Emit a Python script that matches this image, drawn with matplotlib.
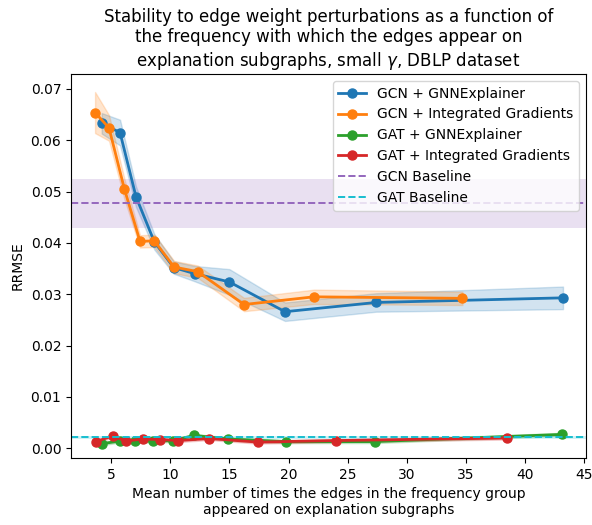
import numpy as np
import matplotlib
matplotlib.use("Agg")
import matplotlib.pyplot as plt

# ==========================
# DATA
# ==========================

x_gcn_gnn = [4.21, 5.76, 7.11, 8.66, 10.3, 12.1, 15.0, 19.7, 27.4, 43.2]
y_gcn_gnn = [0.0633, 0.0615, 0.0490, 0.0402, 0.0352, 0.0340, 0.0324, 0.0266, 0.0284, 0.0293]
s_gcn_gnn = [0.0020, 0.0025, 0.0020, 0.0015, 0.0012, 0.0015, 0.0025, 0.0018, 0.0018, 0.0022]

x_gcn_ig = [3.65, 4.83, 6.13, 7.45, 8.66, 10.33, 12.33, 16.24, 22.16, 34.7]
y_gcn_ig = [0.0654, 0.0624, 0.0505, 0.0403, 0.0404, 0.0353, 0.0344, 0.0280, 0.0295, 0.0292]
s_gcn_ig = [0.0040, 0.0025, 0.0020, 0.0012, 0.0012, 0.0012, 0.0012, 0.0013, 0.0014, 0.0013]

x_gat_gnn = [4.23, 5.76, 7.04, 8.53, 10.22, 12.04, 14.92, 19.77, 27.29, 43.15]
y_gat_gnn = [0.0009, 0.0014, 0.0014, 0.0014, 0.0015, 0.0025, 0.0018, 0.0013, 0.0013, 0.0027]
s_gat_gnn = [0.0003] * 10

x_gat_ig = [3.75, 5.13, 6.24, 7.67, 9.18, 10.7, 13.3, 17.4, 24.0, 38.5]
y_gat_ig = [0.0013, 0.0024, 0.0014, 0.0018, 0.0017, 0.0015, 0.0019, 0.0012, 0.0015, 0.0020]
s_gat_ig = [0.0003] * 10

gcn_base, gcn_base_std = 0.0477, 0.0047
gat_base, gat_base_std = 0.0021, 0.0003

# ==========================
# PLOT
# ==========================

fig = plt.figure(figsize=(5.92, 5.25), dpi=100)
ax = fig.add_axes([0.12, 0.1276, 0.87, 0.7314])

series = [
    (x_gcn_gnn, y_gcn_gnn, s_gcn_gnn, "tab:blue", "GCN + GNNExplainer"),
    (x_gcn_ig, y_gcn_ig, s_gcn_ig, "tab:orange", "GCN + Integrated Gradients"),
    (x_gat_gnn, y_gat_gnn, s_gat_gnn, "tab:green", "GAT + GNNExplainer"),
    (x_gat_ig, y_gat_ig, s_gat_ig, "tab:red", "GAT + Integrated Gradients"),
]

for xs, ys, ss, c, lab in series:
    xs = np.array(xs)
    ys = np.array(ys)
    ss = np.array(ss)
    ax.plot(xs, ys, marker="o", color=c, linewidth=2, markersize=6.5, label=lab)
    ax.fill_between(xs, ys - ss, ys + ss, color=c, alpha=0.2)

ax.axhline(gcn_base, color="tab:purple", linestyle="--", linewidth=1.4, label="GCN Baseline")
ax.axhspan(gcn_base - gcn_base_std, gcn_base + gcn_base_std, color="tab:purple", alpha=0.2, linewidth=0)
ax.axhline(gat_base, color="tab:cyan", linestyle="--", linewidth=1.4, label="GAT Baseline")
ax.axhspan(gat_base - gat_base_std, gat_base + gat_base_std, color="tab:cyan", alpha=0.2, linewidth=0)

ax.set_xlim(1.62, 45.15)
ax.set_ylim(-0.0019, 0.0729)
ax.set_xticks([5, 10, 15, 20, 25, 30, 35, 40, 45])
ax.set_yticks([0.0, 0.01, 0.02, 0.03, 0.04, 0.05, 0.06, 0.07])
ax.set_yticklabels(["0.00", "0.01", "0.02", "0.03", "0.04", "0.05", "0.06", "0.07"])

ax.set_title(
    "Stability to edge weight perturbations as a function of\n"
    "the frequency with which the edges appear on\n"
    "explanation subgraphs, small $\\gamma$, DBLP dataset",
    fontsize=12
)
ax.set_xlabel("Mean number of times the edges in the frequency group\nappeared on explanation subgraphs")
ax.set_ylabel("RRMSE")
ax.legend(loc="upper right")

fig.savefig("out.png", dpi=100)
